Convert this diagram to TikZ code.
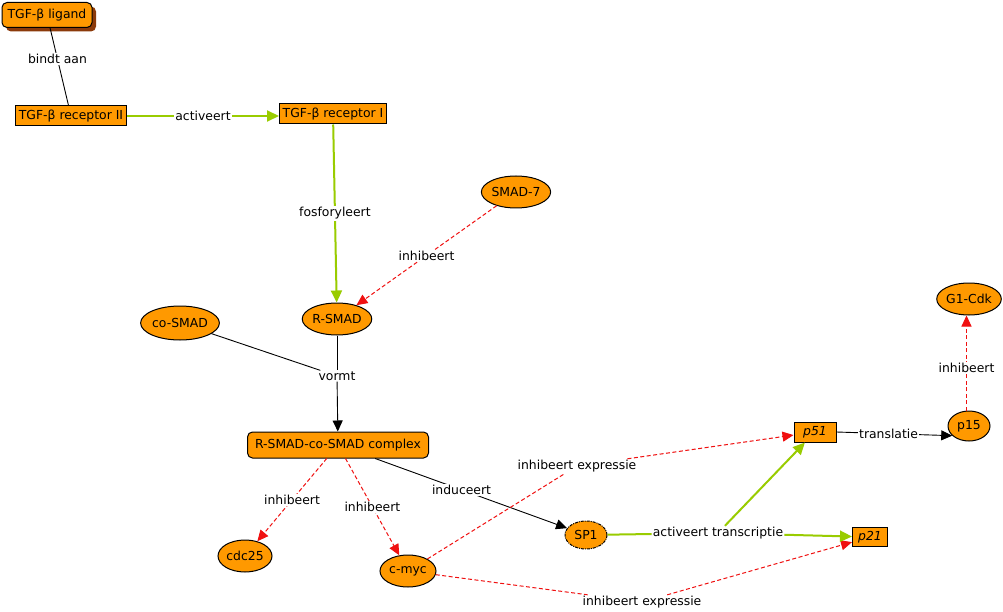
\documentclass[tikz,border=0pt]{standalone}
\usepackage{fontspec}
\setmainfont{DejaVu Sans}
\usetikzlibrary{arrows.meta,shapes.geometric,shadows}
\definecolor{org}{HTML}{FF9900}
\definecolor{grn}{HTML}{99CC00}
\definecolor{shd}{HTML}{8B3A0A}
\definecolor{inh}{HTML}{F01010}
\newcommand{\dgfont}{\fontsize{12.4}{14}\selectfont}
\begin{document}
\begin{tikzpicture}[x=1pt,y=-1pt,
  every node/.style={font=\dgfont, text=black},
  box/.style={draw=black, fill=org, rectangle, line width=1pt, inner sep=0pt},
  rbox/.style={box, rounded corners=5pt},
  ell/.style={draw=black, fill=org, ellipse, line width=1pt, inner sep=0pt},
  lbl/.style={fill=white, inner sep=1pt, text=black},
  conn/.style={line width=0.9pt, black},
  tip/.style={-{Triangle[length=11pt,width=10pt]}},
  act/.style={grn, line width=2pt, -{Triangle[length=12pt,width=11pt]}},
  actline/.style={grn, line width=2pt},
  inhline/.style={inh, line width=1pt, dash pattern=on 4pt off 2.5pt},
  inhib/.style={inhline, -{Triangle[length=11pt,width=10pt]}},
]
\useasboundingbox[fill=white] (0,0) rectangle (1003,612);

% nodes
\node[rbox, minimum width=90pt, minimum height=25pt,
  drop shadow={shadow xshift=4pt, shadow yshift=-4pt, fill=shd, opacity=1}] (lig) at (47,15) {TGF-β ligand};
\node[box, minimum width=111pt, minimum height=20pt] (r2) at (71,116) {TGF-β receptor II};
\node[box, minimum width=107pt, minimum height=20pt] (r1) at (333,114) {TGF-β receptor I};
\node[ell, minimum width=68pt, minimum height=32pt] (smad7) at (516,192) {SMAD-7};
\node[ell, minimum width=68pt, minimum height=32pt] (rsmad) at (337,319) {R-SMAD};
\node[ell, minimum width=72pt, minimum height=34pt] (cosmad) at (180,323) {co-SMAD};
\node[rbox, minimum width=181pt, minimum height=26pt] (cplx) at (338,445) {R-SMAD-co-SMAD complex};
\node[ell, minimum width=54pt, minimum height=32pt] (cdc) at (245,556) {cdc25};
\node[ell, minimum width=56pt, minimum height=32pt] (cmyc) at (408,571) {c-myc};
\node[ell, minimum width=42pt, minimum height=28pt, dash pattern=on 3pt off 1pt on 1pt off 1pt] (sp1) at (586,535) {SP1};
\node[box, minimum width=42pt, minimum height=20pt] (p51) at (815,432) {\itshape p51};
\node[box, minimum width=35pt, minimum height=19pt] (p21) at (870,537) {\itshape p21};
\node[ell, minimum width=42pt, minimum height=30pt] (p15) at (969,426) {p15};
\node[ell, minimum width=64pt, minimum height=32pt] (g1) at (969,299) {G1-Cdk};

% label nodes for joined / bent connectors
\node[lbl] (vormt) at (337,376) {vormt};
\node[lbl] (transcr) at (718,533) {activeert transcriptie};
\node[lbl] (ie1) at (577,466) {inhibeert expressie};
\node[lbl] (ie2) at (642,602) {inhibeert expressie};

% connectors
\draw[conn] (lig) -- node[lbl, pos=0.4]{bindt aan} (r2);
\draw[act] (r2.east) -- node[lbl]{activeert} (r2.east -| r1.west);
\draw[act] (r1) -- node[lbl]{fosforyleert} (rsmad);
\draw[inhib] (smad7) -- node[lbl]{inhibeert} (rsmad);
\draw[conn] (cosmad) -- (vormt);
\draw[conn] (rsmad) -- (vormt);
\draw[conn,tip] (vormt) -- (cplx);
\draw[inhib] (cplx) -- node[lbl]{inhibeert} (cdc);
\draw[inhib] (cplx) -- node[lbl]{inhibeert} (cmyc);
\draw[conn,tip] (cplx) -- node[lbl, pos=0.45]{induceert} (sp1);
\draw[inhline] (cmyc) -- (ie1);
\draw[inhib] (ie1) -- (p51);
\draw[inhline] (cmyc) -- (ie2);
\draw[inhib] (ie2) -- (p21);
\draw[actline] (sp1) -- (transcr);
\draw[act] (transcr) -- (p51);
\draw[act] (transcr) -- (p21);
\draw[conn,tip] (p51.east) -- node[lbl, pos=0.45]{translatie} (p15.210);
\draw[inhib] ([xshift=-2.5pt]p15.north) -- node[lbl, pos=0.45]{inhibeert} ([xshift=-2.5pt]g1.south);
\end{tikzpicture}
\end{document}
